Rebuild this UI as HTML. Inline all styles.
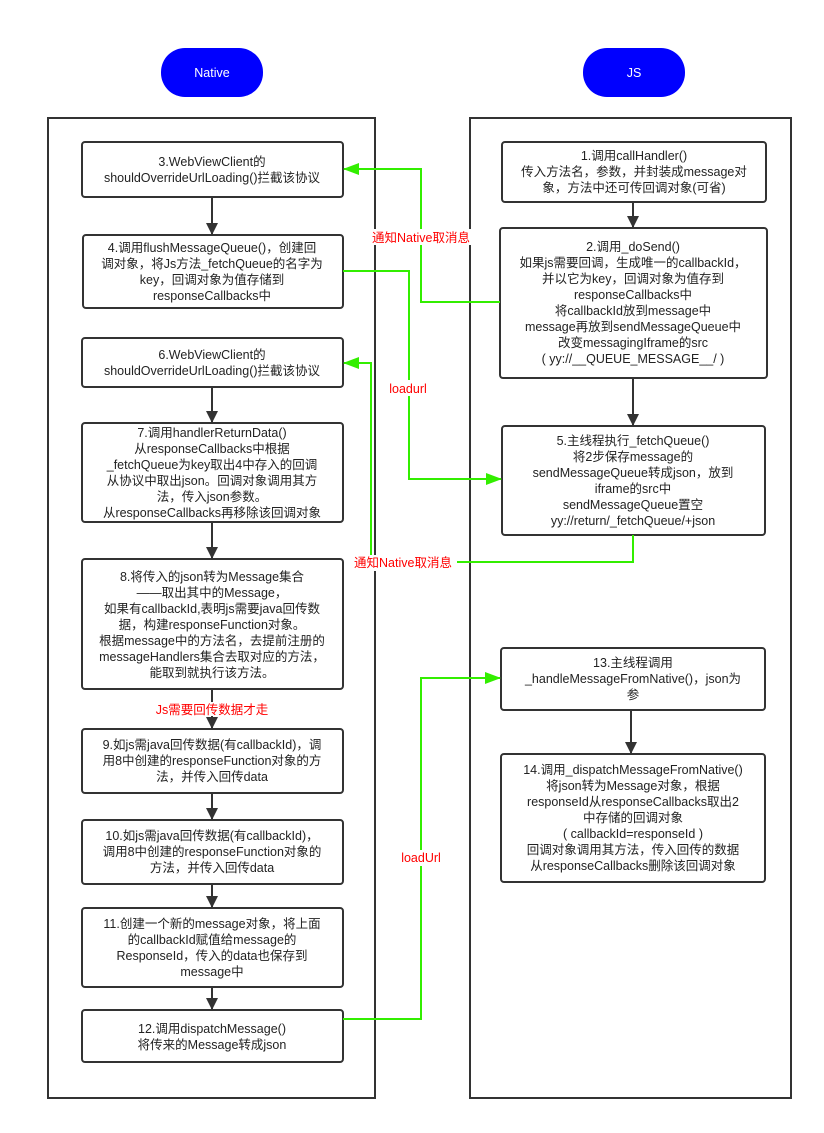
<!DOCTYPE html>
<html><head><meta charset="utf-8"><style>
html,body{margin:0;padding:0;background:#fff;}
svg text{font-family:"Liberation Sans","Noto Sans CJK SC",sans-serif;font-size:12.5px;fill:#222;}
</style></head><body>
<svg width="824" height="1128" viewBox="0 0 824 1128" xmlns="http://www.w3.org/2000/svg">
<defs>
<marker id="ab" markerWidth="12" markerHeight="12" refX="11" refY="6" orient="auto" markerUnits="userSpaceOnUse"><path d="M0,0 L12,6 L0,12 z" fill="#333"/></marker>
<marker id="ag" markerWidth="16" markerHeight="12" refX="15" refY="6" orient="auto" markerUnits="userSpaceOnUse"><path d="M0,0 L16,6 L0,12 z" fill="#33ee00"/></marker>
</defs>
<rect x="161" y="48" width="102" height="49" rx="24" fill="#0000ff"/>
<text x="212" y="77" text-anchor="middle" style="fill:#fff">Native</text>
<rect x="583" y="48" width="102" height="49" rx="24" fill="#0000ff"/>
<text x="634" y="77" text-anchor="middle" style="fill:#fff">JS</text>
<rect x="48" y="118" width="327" height="980" fill="none" stroke="#333" stroke-width="2"/>
<rect x="470" y="118" width="321" height="980" fill="none" stroke="#333" stroke-width="2"/>

<g fill="#fff" stroke="#333" stroke-width="2">
<rect x="82" y="142" width="261" height="55" rx="3"/>
<rect x="83" y="235" width="260" height="73" rx="3"/>
<rect x="82" y="338" width="261" height="49" rx="3"/>
<rect x="82" y="423" width="261" height="99" rx="3"/>
<rect x="82" y="559" width="261" height="130" rx="3"/>
<rect x="82" y="729" width="261" height="64" rx="3"/>
<rect x="82" y="820" width="261" height="64" rx="3"/>
<rect x="82" y="908" width="261" height="79" rx="3"/>
<rect x="82" y="1010" width="261" height="52" rx="3"/>
<rect x="502" y="142" width="264" height="60" rx="3"/>
<rect x="500" y="228" width="267" height="150" rx="3"/>
<rect x="502" y="426" width="263" height="109" rx="3"/>
<rect x="501" y="648" width="264" height="62" rx="3"/>
<rect x="501" y="754" width="264" height="128" rx="3"/>
</g>

<g stroke="#333" stroke-width="2" marker-end="url(#ab)">
<line x1="212" y1="198" x2="212" y2="234"/>
<line x1="212" y1="388" x2="212" y2="422"/>
<line x1="212" y1="523" x2="212" y2="558"/>
<line x1="212" y1="690" x2="212" y2="728"/>
<line x1="212" y1="794" x2="212" y2="819"/>
<line x1="212" y1="885" x2="212" y2="907"/>
<line x1="212" y1="988" x2="212" y2="1009"/>
<line x1="633" y1="203" x2="633" y2="227"/>
<line x1="633" y1="379" x2="633" y2="425"/>
<line x1="631" y1="711" x2="631" y2="753"/>
</g>

<g stroke="#33ee00" stroke-width="2" fill="none" marker-end="url(#ag)">
<polyline points="500,302 421,302 421,169 344,169"/>
<polyline points="343,271 409,271 409,479 501,479"/>
<polyline points="633,535 633,562 371,562 371,363 344,363"/>
<polyline points="343,1019 421,1019 421,678 500,678"/>
</g>
<g>
<rect x="366" y="229" width="110" height="16" fill="#fff"/>
<text x="421" y="242" text-anchor="middle" style="fill:#ff0000">通知Native取消息</text>
<rect x="384" y="380" width="50" height="16" fill="#fff"/>
<text x="408" y="393" text-anchor="middle" style="fill:#ff0000">loadurl</text>
<rect x="349" y="555" width="108" height="16" fill="#fff"/>
<text x="403" y="567" text-anchor="middle" style="fill:#ff0000">通知Native取消息</text>
<rect x="398" y="850" width="48" height="16" fill="#fff"/>
<text x="421" y="862" text-anchor="middle" style="fill:#ff0000">loadUrl</text>
<rect x="150" y="702" width="124" height="14" fill="#fff"/>
<text x="212" y="714" text-anchor="middle" style="fill:#ff0000">Js需要回传数据才走</text>
</g>

<g text-anchor="middle">
<text x="212" y="166">3.WebViewClient的</text>
<text x="212" y="182">shouldOverrideUrlLoading()拦截该协议</text>

<text x="212" y="252">4.调用flushMessageQueue()，创建回</text>
<text x="212" y="268">调对象，将Js方法_fetchQueue的名字为</text>
<text x="212" y="284">key，回调对象为值存储到</text>
<text x="212" y="300">responseCallbacks中</text>

<text x="212" y="359">6.WebViewClient的</text>
<text x="212" y="375">shouldOverrideUrlLoading()拦截该协议</text>

<text x="212" y="437">7.调用handlerReturnData()</text>
<text x="212" y="453">从responseCallbacks中根据</text>
<text x="212" y="469">_fetchQueue为key取出4中存入的回调</text>
<text x="212" y="485">从协议中取出json。回调对象调用其方</text>
<text x="212" y="501">法，传入json参数。</text>
<text x="212" y="517">从responseCallbacks再移除该回调对象</text>

<text x="212" y="581">8.将传入的json转为Message集合</text>
<text x="212" y="597">——取出其中的Message，</text>
<text x="212" y="613">如果有callbackId,表明js需要java回传数</text>
<text x="212" y="629">据，构建responseFunction对象。</text>
<text x="212" y="645">根据message中的方法名，去提前注册的</text>
<text x="212" y="661">messageHandlers集合去取对应的方法，</text>
<text x="212" y="677">能取到就执行该方法。</text>

<text x="212" y="749">9.如js需java回传数据(有callbackId)，调</text>
<text x="212" y="765">用8中创建的responseFunction对象的方</text>
<text x="212" y="781">法，并传入回传data</text>

<text x="212" y="840">10.如js需java回传数据(有callbackId)，</text>
<text x="212" y="856">调用8中创建的responseFunction对象的</text>
<text x="212" y="872">方法，并传入回传data</text>

<text x="212" y="928">11.创建一个新的message对象，将上面</text>
<text x="212" y="944">的callbackId赋值给message的</text>
<text x="212" y="960">ResponseId，传入的data也保存到</text>
<text x="212" y="976">message中</text>

<text x="212" y="1033">12.调用dispatchMessage()</text>
<text x="212" y="1049">将传来的Message转成json</text>

<text x="634" y="160">1.调用callHandler()</text>
<text x="634" y="176">传入方法名，参数，并封装成message对</text>
<text x="634" y="192">象，方法中还可传回调对象(可省)</text>

<text x="633" y="251">2.调用_doSend()</text>
<text x="633" y="267">如果js需要回调，生成唯一的callbackId，</text>
<text x="633" y="283">并以它为key，回调对象为值存到</text>
<text x="633" y="299">responseCallbacks中</text>
<text x="633" y="315">将callbackId放到message中</text>
<text x="633" y="331">message再放到sendMessageQueue中</text>
<text x="633" y="347">改变messagingIframe的src</text>
<text x="633" y="363">( yy://__QUEUE_MESSAGE__/ )</text>

<text x="633" y="445">5.主线程执行_fetchQueue()</text>
<text x="633" y="461">将2步保存message的</text>
<text x="633" y="477">sendMessageQueue转成json，放到</text>
<text x="633" y="493">iframe的src中</text>
<text x="633" y="509">sendMessageQueue置空</text>
<text x="633" y="525">yy://return/_fetchQueue/+json</text>

<text x="633" y="667">13.主线程调用</text>
<text x="633" y="683">_handleMessageFromNative()，json为</text>
<text x="633" y="699">参</text>

<text x="633" y="774">14.调用_dispatchMessageFromNative()</text>
<text x="633" y="790">将json转为Message对象，根据</text>
<text x="633" y="806">responseId从responseCallbacks取出2</text>
<text x="633" y="822">中存储的回调对象</text>
<text x="633" y="838">( callbackId=responseId )</text>
<text x="633" y="854">回调对象调用其方法，传入回传的数据</text>
<text x="633" y="870">从responseCallbacks删除该回调对象</text>
</g>
</svg>
</body></html>
